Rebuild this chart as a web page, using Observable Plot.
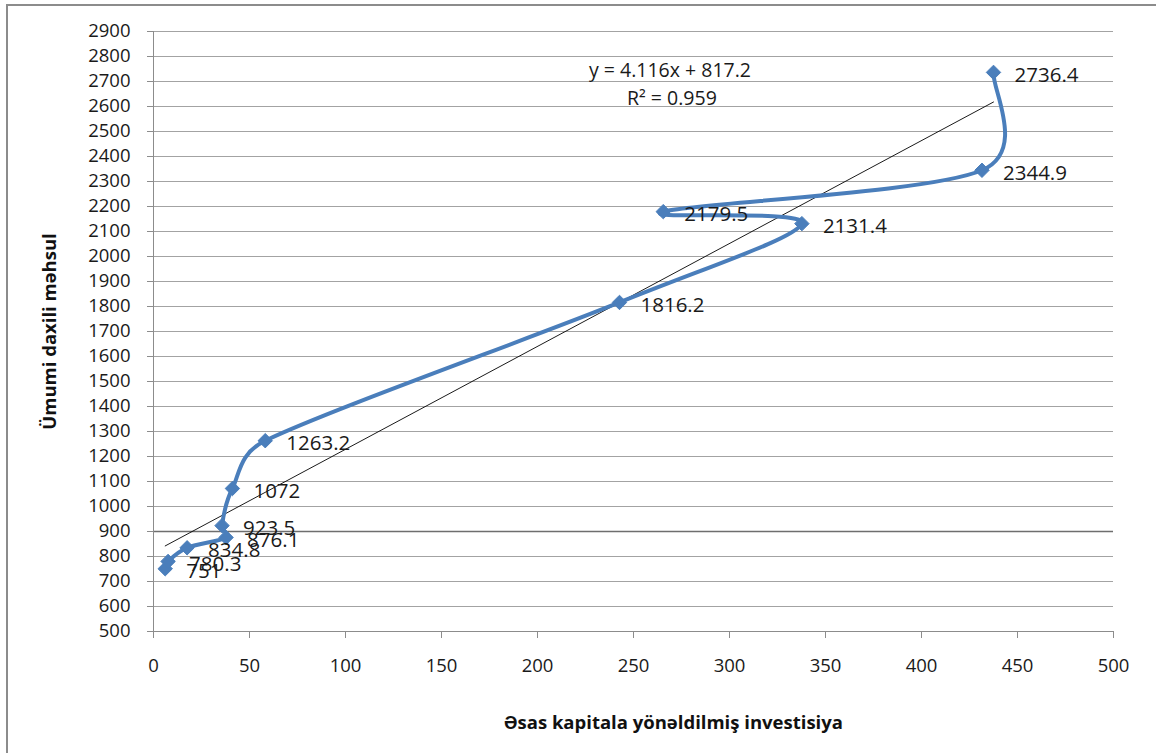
<!DOCTYPE html>
<html>
<head>
<meta charset="utf-8">
<script src="https://cdn.jsdelivr.net/npm/d3@7"></script>
<script src="https://cdn.jsdelivr.net/npm/@observablehq/plot@0.6"></script>
<style>
  html, body { margin: 0; padding: 0; background: #fff; overflow: hidden; }
  #wrap { position: relative; width: 1156px; height: 753px; }
  #border { position: absolute; left: 6px; top: 4px; width: 1200px; height: 800px;
            border-left: 2px solid #8c8c8c; border-top: 2px solid #8c8c8c; pointer-events: none; }
  svg { font-family: "Open Sans", sans-serif; }
</style>
</head>
<body>
<div id="wrap"><div id="border"></div></div>
<script>
// Data
const invest = [6.1, 7.6, 17.5, 37.8, 35.7, 41.1, 58.2, 242.7, 337.7, 265.5, 431.5, 437.5];
const gdp    = [751, 780.3, 834.8, 876.1, 923.5, 1072, 1263.2, 1816.2, 2131.4, 2179.5, 2344.9, 2736.4];
const gdpLabels = ["751", "780.3", "834.8", "876.1", "923.5", "1072", "1263.2", "1816.2", "2131.4", "2179.5", "2344.9", "2736.4"];

// Trendline reported on the chart
const trendSlope = 4.116;
const trendIntercept = 817.2;
const trendText = ["y = 4.116x + 817.2", "R² = 0.959"];

const xTicks = [0, 50, 100, 150, 200, 250, 300, 350, 400, 450, 500];
const yTicks = [500, 600, 700, 800, 900, 1000, 1100, 1200, 1300, 1400, 1500, 1600, 1700, 1800, 1900, 2000, 2100, 2200, 2300, 2400, 2500, 2600, 2700, 2800, 2900];
const xTitle = "Əsas kapitala yönəldilmiş investisiya";
const yTitle = "Ümumi daxili məhsul";

const points = invest.map((x, i) => ({x, y: gdp[i], label: gdpLabels[i]}));
const xMin = d3.min(invest), xMax = d3.max(invest);
const trend = [xMin, xMax].map(x => ({x, y: trendSlope * x + trendIntercept}));

// Spreadsheet-style smoothed line: Catmull-Rom tangents, control arms limited by segment length
function smoothCurve(context) {
  const K = 0.5;
  let pts;
  const clamp = (t, lim) => {
    const l = Math.hypot(t[0], t[1]);
    return l > lim && l > 0 ? [t[0] * lim / l, t[1] * lim / l] : t;
  };
  return {
    areaStart() {}, areaEnd() {},
    lineStart() { pts = []; },
    point(x, y) { pts.push([+x, +y]); },
    lineEnd() {
      const n = pts.length;
      if (!n) return;
      context.moveTo(pts[0][0], pts[0][1]);
      for (let i = 0; i < n - 1; i++) {
        const p0 = pts[Math.max(i - 1, 0)], p1 = pts[i], p2 = pts[i + 1], p3 = pts[Math.min(i + 2, n - 1)];
        const seg = Math.hypot(p2[0] - p1[0], p2[1] - p1[1]);
        const t1 = clamp([(p2[0] - p0[0]) / 6, (p2[1] - p0[1]) / 6], seg * K);
        const t2 = clamp([(p3[0] - p1[0]) / 6, (p3[1] - p1[1]) / 6], seg * K);
        context.bezierCurveTo(p1[0] + t1[0], p1[1] + t1[1], p2[0] - t2[0], p2[1] - t2[1], p2[0], p2[1]);
      }
    }
  };
}

const chart = Plot.plot({
  width: 1156,
  height: 753,
  marginLeft: 153,
  marginRight: 43,
  marginTop: 31,
  marginBottom: 122,
  style: {fontFamily: "'Open Sans', sans-serif", background: "transparent", overflow: "visible"},
  x: {domain: [0, 500]},
  y: {domain: [500, 2900]},
  marks: [
    Plot.gridY(yTicks, {stroke: "#a3a3a3", strokeOpacity: 1, strokeWidth: 1}),
    Plot.ruleY([900], {stroke: "#6e6e6e", strokeWidth: 1.5}),
    Plot.ruleX([0], {stroke: "#8c8c8c", strokeWidth: 1}),
    Plot.ruleY([500], {stroke: "#8c8c8c", strokeWidth: 1}),
    Plot.axisY(yTicks, {tickSize: 6, tickPadding: 17, stroke: "#8c8c8c", fill: "#1a1a1a",
      fontSize: 18.5, label: null, tickFormat: d => String(d)}),
    Plot.axisX(xTicks, {tickSize: 7, tickPadding: 20, stroke: "#8c8c8c", fill: "#1a1a1a",
      fontSize: 18.5, label: null, tickFormat: d => String(d)}),
    Plot.line(trend, {x: "x", y: "y", stroke: "#000", strokeWidth: 0.9}),
    Plot.line(points, {x: "x", y: "y", stroke: "#4a7ebb", strokeWidth: 4, curve: smoothCurve}),
    Plot.dot(points, {x: "x", y: "y", symbol: "diamond2", r: 6.5, fill: "#4a7ebb", stroke: "#4a7ebb", strokeWidth: 1}),
    Plot.text(points, {x: "x", y: "y", text: "label", textAnchor: "start", dx: 21, dy: 3,
      fontSize: 20.5, fill: "#1a1a1a"}),
    Plot.text([trendText[0]], {x: 269, y: 2744, fontSize: 19.5, fill: "#1a1a1a"}),
    Plot.text([trendText[1]], {x: 270, y: 2632, fontSize: 19.5, fill: "#1a1a1a"}),
    Plot.text([xTitle], {frameAnchor: "bottom", textAnchor: "middle", lineAnchor: "middle", dx: 40, dy: 92,
      fontSize: 18.5, fontWeight: "bold", fill: "#111"}),
    Plot.text([yTitle], {frameAnchor: "left", textAnchor: "middle", lineAnchor: "middle", dx: -103, dy: 0,
      rotate: -90, fontSize: 18.5, fontWeight: "bold", fill: "#111"})
  ]
});
chart.style.position = "absolute";
chart.style.left = "0px";
chart.style.top = "0px";
document.getElementById("wrap").appendChild(chart);
</script>
</body>
</html>
